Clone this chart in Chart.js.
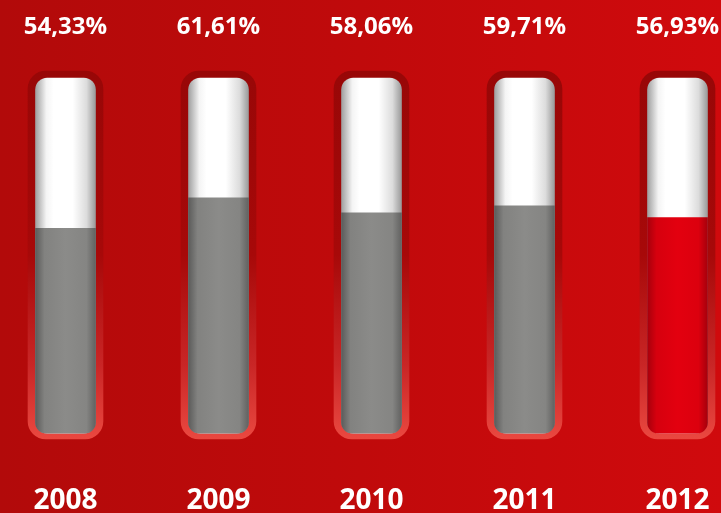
<!DOCTYPE html>
<html>
<head>
<meta charset="utf-8">
<script src="https://cdn.jsdelivr.net/npm/chart.js@4/dist/chart.umd.min.js"></script>
<style>
  html, body { margin: 0; padding: 0; }
  body { width: 721px; height: 513px; overflow: hidden;
         background: linear-gradient(90deg, #b20a0a 0%, #c00a0b 50%, #d00a0d 100%); }
  #wrap { width: 721px; height: 513px; }
</style>
</head>
<body>
<div id="wrap"><canvas id="c" width="721" height="513"></canvas></div>
<script>
// ---- data ----
const years = ['2008', '2009', '2010', '2011', '2012'];
const values = [54.33, 61.61, 58.06, 59.71, 56.93];
const pctLabels = values.map(v => v.toFixed(2).replace('.', ',') + '%');
const highlightIndex = 4;          // last year shown in red
// tube (empty part) and frame extents, in value units
const tubeLow = 5.6, tubeHigh = 90.1;
const frameLow = 4.2, frameHigh = 91.8;
const tubeTop = [tubeHigh, tubeHigh, tubeHigh, tubeHigh, tubeHigh];
const frameTop = [frameHigh, frameHigh, frameHigh, frameHigh, frameHigh];

function hGrad(context, stops, half) {
  const chart = context.chart;
  if (!chart.chartArea || !chart.scales.x) return stops[Math.floor(stops.length / 2)][1];
  const cx = chart.scales.x.getPixelForValue(context.dataIndex);
  const g = chart.ctx.createLinearGradient(cx - half, 0, cx + half, 0);
  stops.forEach(s => g.addColorStop(s[0], s[1]));
  return g;
}
function frameGrad(context) {
  const chart = context.chart;
  const a = chart.chartArea;
  if (!a) return '#a00808';
  const g = chart.ctx.createLinearGradient(0, a.top, 0, a.bottom);
  g.addColorStop(0, '#980707');
  g.addColorStop(0.5, '#a70909');
  g.addColorStop(0.8, '#c92626');
  g.addColorStop(1, '#ea4840');
  return g;
}
const whiteStops = [[0, '#a0a0a0'], [0.18, '#f4f4f4'], [0.3, '#ffffff'], [0.62, '#ffffff'], [0.85, '#dcdcdc'], [1, '#9a9a9a']];
const grayStops = [[0, '#5c5c5b'], [0.15, '#828280'], [0.5, '#8b8b89'], [0.85, '#858583'], [1, '#626261']];
const redStops = [[0, '#a8000c'], [0.15, '#d6000e'], [0.5, '#e3000f'], [0.85, '#dc000e'], [1, '#a6000c']];

function fixAxis(h) {
  return scale => { scale.height = h; scale.paddingLeft = 0; scale.paddingRight = 0; };
}

new Chart(document.getElementById('c'), {
  type: 'bar',
  data: {
    labels: years,
    datasets: [
      {
        label: 'value',
        data: values,
        base: tubeLow,
        order: 0,
        grouped: false,
        barThickness: 60,
        borderSkipped: false,
        borderRadius: { topLeft: 0, topRight: 0, bottomLeft: 11, bottomRight: 11 },
        backgroundColor: ctx => hGrad(ctx, ctx.dataIndex === highlightIndex ? redStops : grayStops, 30),
        clip: false
      },
      {
        label: 'tube',
        data: tubeTop,
        base: tubeLow,
        order: 1,
        grouped: false,
        barThickness: 60,
        borderSkipped: false,
        borderRadius: 12,
        backgroundColor: ctx => hGrad(ctx, whiteStops, 30),
        clip: false
      },
      {
        label: 'frame',
        data: frameTop,
        base: frameLow,
        order: 2,
        grouped: false,
        barThickness: 75,
        borderSkipped: false,
        borderRadius: 18,
        backgroundColor: frameGrad,
        clip: false
      }
    ]
  },
  options: {
    responsive: false,
    animation: false,
    layout: { padding: { left: 65.5, right: 43.5, top: 0, bottom: 0 } },
    plugins: { legend: { display: false }, tooltip: { enabled: false } },
    scales: {
      x: {
        type: 'category',
        position: 'bottom',
        offset: false,
        grid: { display: false },
        border: { display: false },
        afterFit: fixAxis(74),
        ticks: {
          color: '#ffffff',
          autoSkip: false, maxRotation: 0,
          padding: 37,
          font: { family: 'Open Sans', weight: 'bold', size: 28 }
        }
      },
      xTop: {
        type: 'category',
        position: 'top',
        labels: pctLabels,
        offset: false,
        grid: { display: false },
        border: { display: false },
        afterFit: fixAxis(71),
        ticks: {
          color: '#ffffff',
          autoSkip: false, maxRotation: 0,
          padding: 21,
          font: { family: 'Open Sans', weight: 'bold', size: 24 }
        }
      },
      y: {
        display: false,
        min: frameLow,
        max: frameHigh
      }
    }
  }
});
</script>
</body>
</html>
